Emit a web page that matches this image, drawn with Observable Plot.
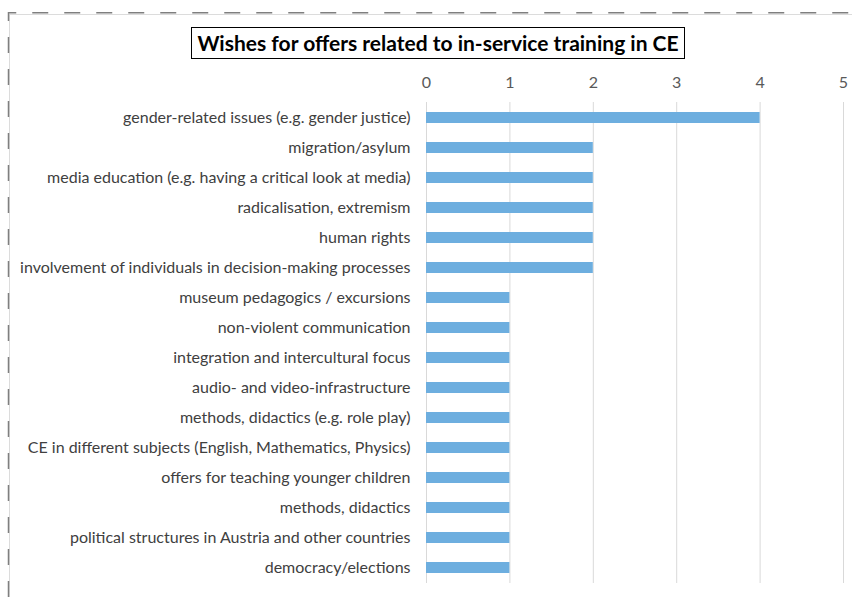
<!DOCTYPE html>
<html><head><meta charset="utf-8">
<script src="https://cdn.jsdelivr.net/npm/d3@7"></script>
<script src="https://cdn.jsdelivr.net/npm/@observablehq/plot@0.6"></script>
<style>
html,body{margin:0;padding:0;background:#fff;}
#wrap{position:relative;width:852px;height:597px;overflow:hidden;font-family:Lato,"Open Sans",sans-serif;}
#title{position:absolute;left:191px;top:27px;width:492px;height:30px;border:1.5px solid #000;box-sizing:content-box;
  font-weight:bold;font-size:21px;line-height:30px;text-align:center;color:#000;white-space:nowrap;}
#grayTop{position:absolute;left:9px;top:14px;width:843px;height:1px;background:#dcdcdc;}
#grayLeft{position:absolute;left:9px;top:14px;width:1px;height:583px;background:#dcdcdc;}
svg.dash{position:absolute;left:0;top:0;}
</style></head>
<body>
<div id="wrap"></div>
<script>
const categories = [
  "gender-related issues (e.g. gender justice)",
  "migration/asylum",
  "media education (e.g. having a critical look at media)",
  "radicalisation, extremism",
  "human rights",
  "involvement of individuals in decision-making processes",
  "museum pedagogics / excursions",
  "non-violent communication",
  "integration and intercultural focus",
  "audio- and video-infrastructure",
  "methods, didactics (e.g. role play)",
  "CE in different subjects (English, Mathematics, Physics)",
  "offers for teaching younger children",
  "methods, didactics",
  "political structures in Austria and other countries",
  "democracy/elections"
];
const counts = [4, 2, 2, 2, 2, 2, 1, 1, 1, 1, 1, 1, 1, 1, 1, 1];
const xTicks = [0, 1, 2, 3, 4, 5];
const titleText = "Wishes for offers related to in-service training in CE";

const data = categories.map((c, i) => ({category: c, value: counts[i]}));

const chart = Plot.plot({
  width: 852,
  height: 597,
  marginLeft: 426,
  marginRight: 9,
  marginTop: 102,
  marginBottom: 14,
  style: {fontFamily: "Lato, 'Open Sans', sans-serif", background: "transparent"},
  x: {domain: [0, 5], ticks: xTicks, axis: null},
  y: {domain: categories, paddingInner: 0.63, paddingOuter: 0.315, axis: null},
  marks: [
    Plot.gridX(xTicks, {stroke: "#d9d9d9", strokeOpacity: 1, strokeWidth: 1}),
    Plot.axisX(xTicks, {anchor: "top", tickSize: 0, tickPadding: 15, fontSize: 16, fill: "#595959", label: null, tickFormat: d => String(d)}),
    Plot.axisY({anchor: "left", tickSize: 0, tickPadding: 16, fontSize: 16, fill: "#404040", label: null}),
    Plot.barX(data, {x: "value", y: "category", fill: "#6DAEDF"})
  ]
});

const wrap = document.getElementById("wrap");
const gt = document.createElement("div"); gt.id = "grayTop"; wrap.appendChild(gt);
const gl = document.createElement("div"); gl.id = "grayLeft"; wrap.appendChild(gl);
chart.style.position = "absolute"; chart.style.left = "0"; chart.style.top = "0";
wrap.appendChild(chart);
const t = document.createElement("div"); t.id = "title"; t.textContent = titleText; wrap.appendChild(t);

// dashed selection outline
const ns = "http://www.w3.org/2000/svg";
const ds = document.createElementNS(ns, "svg");
ds.setAttribute("class", "dash"); ds.setAttribute("width", 852); ds.setAttribute("height", 597);
const p = document.createElementNS(ns, "path");
p.setAttribute("d", "M8.5,597 V12.75 H852");
p.setAttribute("fill", "none"); p.setAttribute("stroke", "#7f7f7f"); p.setAttribute("stroke-width", "1.5");
p.setAttribute("stroke-dasharray", "16 16");
ds.appendChild(p);
wrap.appendChild(ds);
</script>
</body></html>
